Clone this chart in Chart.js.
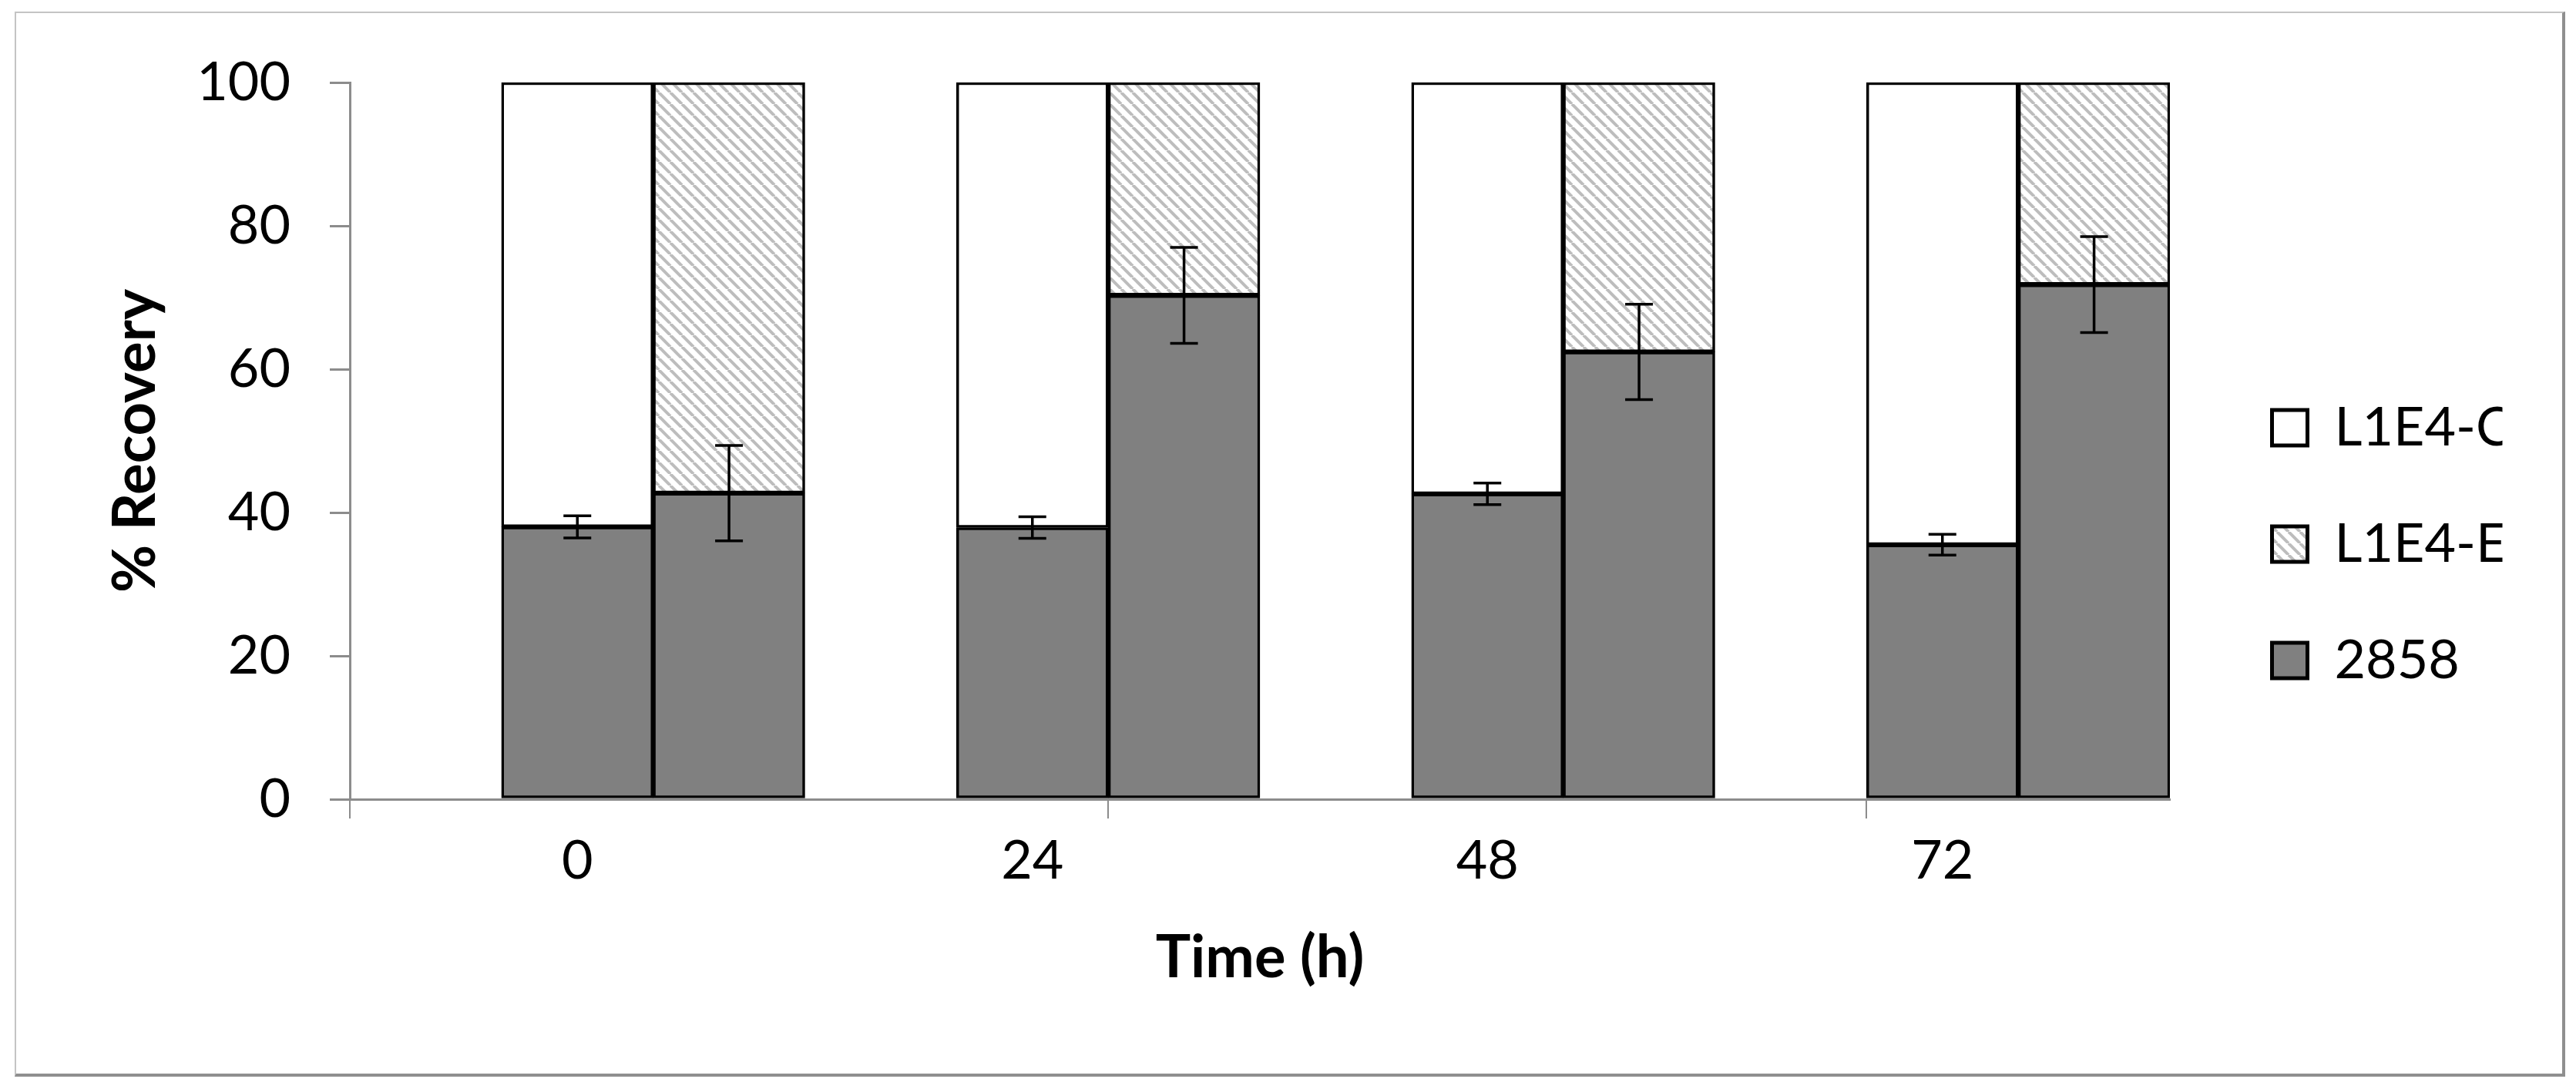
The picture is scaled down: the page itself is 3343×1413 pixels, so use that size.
<!DOCTYPE html>
<html>
<head>
<meta charset="utf-8">
<title>% Recovery</title>
<script src="https://cdn.jsdelivr.net/npm/chart.js@4.4.1/dist/chart.umd.min.js"></script>
<style>
    html, body { margin: 0; padding: 0; background: #fff; }
    #frame {
        position: absolute; left: 19px; top: 15px;
        width: 3310px; height: 1382px; box-sizing: border-box;
        border: 2px solid #c4c4c4;
        border-right: 4px solid #8f8f8f;
        border-bottom: 4px solid #8f8f8f;
    }
    #wrap { position: absolute; left: 0; top: 0; width: 3343px; height: 1413px; }
</style>
</head>
<body>
<div id="frame"></div>
<div id="wrap"><canvas id="recoveryChart"></canvas></div>
<script>
// time points (h)
const timeLabels = ['0', '24', '48', '72'];
const yTicks = [0, 20, 40, 60, 80, 100];

// 2858 share of each bar, and its error
const share2858InC = [38.0, 37.9, 42.6, 35.5];
const share2858InE = [42.7, 70.3, 62.4, 71.8];
const err2858InC = [1.55, 1.5, 1.5, 1.45];
const err2858InE = [6.65, 6.7, 6.65, 6.7];

// remaining share of each bar
const shareL1E4C = [62.0, 62.1, 57.4, 64.5];
const shareL1E4E = [57.3, 29.7, 37.6, 28.2];

// each time point takes 3 slots on the axis: bar C, bar E, gap (first slot is a gap)
const slotLabels = [];
const data2858 = [], dataC = [], dataE = [], err2858 = [];
slotLabels.push(''); data2858.push(null); dataC.push(null); dataE.push(null); err2858.push(null);
timeLabels.forEach((t, i) => {
    slotLabels.push(t, '');
    data2858.push(share2858InC[i], share2858InE[i]);
    err2858.push(err2858InC[i], err2858InE[i]);
    dataC.push(shareL1E4C[i], null);
    dataE.push(null, shareL1E4E[i]);
    if (i < timeLabels.length - 1) {
        slotLabels.push('');
        data2858.push(null); dataC.push(null); dataE.push(null); err2858.push(null);
    }
});

function makeHatch() {
    const s = 15;
    const c = document.createElement('canvas');
    c.width = s; c.height = s;
    const g = c.getContext('2d');
    g.fillStyle = '#ffffff';
    g.fillRect(0, 0, s, s);
    g.strokeStyle = '#bdbdbd';
    g.lineWidth = 4;
    [-s, 0, s].forEach(k => {
        g.beginPath();
        g.moveTo(k, 0);
        g.lineTo(k + s, s);
        g.stroke();
    });
    return g.createPattern(c, 'repeat');
}

const errorBars = {
    id: 'errorBars',
    afterDatasetsDraw(chart) {
        const meta = chart.getDatasetMeta(0);
        const y = chart.scales.y;
        const ctx = chart.ctx;
        ctx.save();
        ctx.strokeStyle = '#000';
        ctx.lineWidth = 3.5;
        meta.data.forEach((bar, i) => {
            const v = data2858[i];
            const e = err2858[i];
            if (v == null || e == null) return;
            const top = y.getPixelForValue(v + e);
            const bot = y.getPixelForValue(v - e);
            const cap = 18;
            ctx.beginPath();
            ctx.moveTo(bar.x, top); ctx.lineTo(bar.x, bot);
            ctx.moveTo(bar.x - cap, top); ctx.lineTo(bar.x + cap, top);
            ctx.moveTo(bar.x - cap, bot); ctx.lineTo(bar.x + cap, bot);
            ctx.stroke();
        });
        ctx.restore();
    }
};

Chart.defaults.font.family = 'Lato, "Open Sans", sans-serif';
Chart.defaults.color = '#000';

const axisGray = '#8c8c8c';
const boundaryTicks = [0, 5, 10];

new Chart(document.getElementById('recoveryChart').getContext('2d'), {
    type: 'bar',
    data: {
        labels: slotLabels,
        datasets: [
            { label: '2858', data: data2858, backgroundColor: '#808080' },
            { label: 'L1E4-E', data: dataE, backgroundColor: makeHatch() },
            { label: 'L1E4-C', data: dataC, backgroundColor: '#ffffff' }
        ]
    },
    options: {
        responsive: true,
        maintainAspectRatio: false,
        animation: false,
        datasets: {
            bar: {
                barPercentage: 1,
                categoryPercentage: 1,
                borderColor: '#000',
                borderWidth: 3.5,
                borderSkipped: false
            }
        },
        layout: { padding: { left: 20, top: 107, right: 95.5, bottom: 108 } },
        scales: {
            x: {
                stacked: true,
                grid: {
                    offset: true,
                    drawOnChartArea: false,
                    tickLength: 25,
                    lineWidth: 2,
                    color: c => boundaryTicks.includes(c.index) ? axisGray : 'rgba(0,0,0,0)'
                },
                border: { color: axisGray, width: 3 },
                ticks: {
                    autoSkip: false,
                    maxRotation: 0,
                    padding: 13,
                    font: { size: 70 }
                },
                title: {
                    display: true,
                    text: 'Time (h)',
                    font: { size: 76, weight: 'bold' },
                    padding: { top: 0, bottom: 16.4 }
                },
                afterFit: s => { s.height = 268; }
            },
            y: {
                stacked: true,
                min: 0,
                max: 100,
                afterBuildTicks: s => { s.ticks = yTicks.map(v => ({ value: v })); },
                grid: {
                    drawOnChartArea: false,
                    tickLength: 26,
                    lineWidth: 3,
                    color: axisGray
                },
                border: { color: axisGray, width: 3 },
                ticks: { padding: 51, font: { size: 70 } },
                title: {
                    display: true,
                    text: '% Recovery',
                    font: { size: 76, weight: 'bold' },
                    padding: { top: 110.4, bottom: 0 }
                },
                afterFit: s => { s.width = 434; }
            },
            gap: {
                type: 'linear',
                position: 'right',
                grid: { display: false },
                border: { display: false },
                ticks: { display: false },
                afterFit: s => { s.width = 51.5; }
            }
        },
        plugins: {
            tooltip: { enabled: false },
            legend: {
                position: 'right',
                reverse: true,
                maxWidth: 380,
                labels: {
                    boxWidth: 46,
                    boxHeight: 46,
                    padding: 81,
                    font: { size: 70 },
                    generateLabels: chart => Chart.defaults.plugins.legend.labels.generateLabels(chart)
                        .map(l => Object.assign(l, { lineWidth: 5, strokeStyle: '#000' }))
                }
            }
        }
    },
    plugins: [errorBars]
});
</script>
</body>
</html>
